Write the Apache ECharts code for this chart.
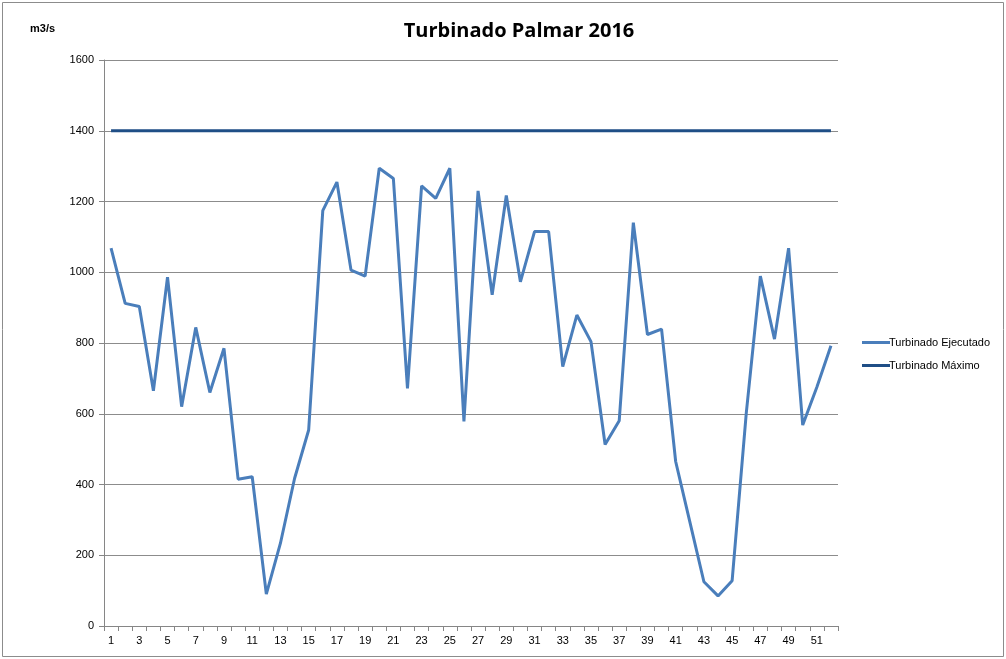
<!DOCTYPE html>
<html>
<head>
    <meta charset="utf-8">
    <title>Turbinado Palmar 2016</title>
    <script src="https://cdn.jsdelivr.net/npm/echarts@6/dist/echarts.min.js"></script>
</head>
<body style="margin:0">
    <div id="chart" style="width:1006px;height:659px"></div>
</body>
<script>
    // semanas 1..52
    var semanas = [];
    for (var i = 1; i <= 52; i++) { semanas.push(String(i)); }

    var ejecutado = [1068, 912, 903, 665, 986, 620, 844, 660, 785, 415,
                     422, 90, 234, 417, 554, 1174, 1255, 1006, 989, 1294,
                     1265, 672, 1244, 1209, 1294, 578, 1230, 936, 1217, 973,
                     1115, 1115, 733, 879, 804, 513, 580, 1140, 824, 839,
                     465, 295, 125, 85, 128, 601, 989, 811, 1068, 568,
                     675, 792];

    var maximo = [];
    for (var j = 0; j < 52; j++) { maximo.push(1400); }

    var mychart = echarts.init(document.getElementById('chart'));

    var option = {
        backgroundColor: '#fff',
        animation: false,
        textStyle: { fontFamily: 'Liberation Sans' },
        title: {
            text: 'Turbinado Palmar 2016',
            left: 514,
            textAlign: 'center',
            top: 16,
            textStyle: { fontSize: 20, fontWeight: 'bold', color: '#000', fontFamily: 'Open Sans' }
        },
        graphic: [
            {
                type: 'rect',
                shape: { x: 2.5, y: 2.5, width: 1001, height: 654 },
                style: { fill: 'none', stroke: '#8c8c8c', lineWidth: 1 }
            },
            {
                type: 'text',
                left: 30,
                top: 23,
                style: { text: 'm3/s', fontSize: 11, fontWeight: 'bold', fill: '#000', fontFamily: 'Liberation Sans' }
            }
        ],
        legend: {
            orient: 'vertical',
            left: 857,
            top: 332,
            itemWidth: 28,
            itemHeight: 3,
            itemGap: 12,
            icon: 'rect',
            textStyle: { fontSize: 11, color: '#000', padding: [0, 0, 0, -6] },
            data: ['Turbinado Ejecutado', 'Turbinado Máximo']
        },
        grid: { left: 104, right: 168, top: 60, bottom: 33 },
        xAxis: {
            type: 'category',
            boundaryGap: true,
            data: semanas,
            axisLine: { lineStyle: { color: '#868686', width: 1 } },
            axisTick: { show: true, interval: 0, length: 5, lineStyle: { color: '#868686' } },
            axisLabel: { interval: 1, fontSize: 11, color: '#000', margin: 9 },
            splitLine: { show: false }
        },
        yAxis: {
            type: 'value',
            min: 0,
            max: 1600,
            interval: 200,
            axisLine: { show: true, lineStyle: { color: '#868686', width: 1 } },
            axisTick: { show: true, length: 5, lineStyle: { color: '#868686' } },
            axisLabel: {
                fontSize: 11, color: '#000', margin: 10,
                formatter: function (v) { return String(v); }
            },
            splitLine: { lineStyle: { color: '#8c8c8c', width: 1 } }
        },
        series: [
            {
                name: 'Turbinado Ejecutado',
                type: 'line',
                data: ejecutado,
                symbol: 'none',
                lineStyle: { color: '#4a7ebb', width: 3 },
                itemStyle: { color: '#4a7ebb' }
            },
            {
                name: 'Turbinado Máximo',
                type: 'line',
                data: maximo,
                symbol: 'none',
                lineStyle: { color: '#1f4e86', width: 3 },
                itemStyle: { color: '#1f4e86' }
            }
        ]
    };
    mychart.setOption(option);
</script>
</html>
